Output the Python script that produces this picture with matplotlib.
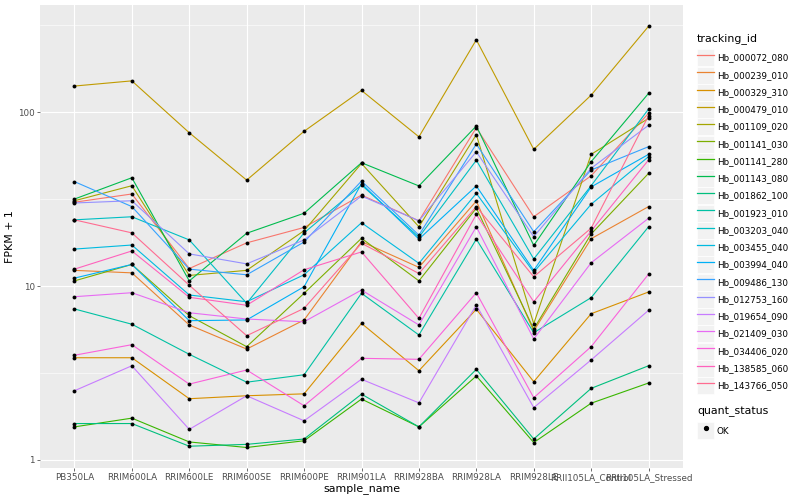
import matplotlib
matplotlib.use("Agg")
import matplotlib.pyplot as plt
import numpy as np
from matplotlib.lines import Line2D
from matplotlib.patches import Rectangle
from matplotlib.legend_handler import HandlerLine2D
from matplotlib.ticker import FixedLocator, NullFormatter

# samples on the x axis
samples = ['PB350LA', 'RRIM600LA', 'RRIM600LE', 'RRIM600SE', 'RRIM600PE', 'RRIM901LA',
           'RRIM928BA', 'RRIM928LA', 'RRIM928LE', 'RRII105LA_Control', 'RRII105LA_Stressed']

# FPKM + 1 per gene
hb_000072_080 = [30.3, 33.8, 12.6, 17.7, 21.7, 33.3, 23.7, 81.2, 25.0, 43.0, 98.3]
hb_000239_010 = [12.3, 11.9, 5.97, 4.34, 6.38, 18.0, 12.8, 30.8, 5.51, 18.7, 28.6]
hb_000329_310 = [3.87, 3.87, 2.25, 2.34, 2.40, 6.10, 3.26, 7.35, 2.82, 6.93, 9.24]
hb_000479_010 = [141, 151, 76, 40.6, 77.5, 133, 72, 260, 61, 125, 311]
hb_001109_020 = [30.9, 37.7, 11.5, 12.3, 20.8, 50.6, 21.9, 74.1, 6.07, 57.1, 92.0]
hb_001141_030 = [10.7, 13.3, 6.75, 4.48, 9.08, 18.8, 10.7, 28.0, 5.66, 19.9, 44.4]
hb_001141_280 = [1.55, 1.74, 1.27, 1.18, 1.29, 2.24, 1.55, 3.04, 1.26, 2.12, 2.77]
hb_001143_080 = [31.6, 41.9, 10.7, 20.1, 26.2, 51.1, 37.6, 83.1, 17.1, 51.8, 128]
hb_001862_100 = [1.62, 1.62, 1.20, 1.23, 1.32, 2.39, 1.55, 3.32, 1.32, 2.58, 3.48]
hb_001923_010 = [7.38, 6.03, 4.05, 2.80, 3.09, 9.08, 5.23, 18.6, 5.39, 8.57, 21.9]
hb_003203_040 = [24.0, 25.0, 18.4, 7.96, 20.2, 38.1, 19.1, 52.8, 14.3, 37.7, 104]
hb_003455_040 = [16.3, 17.2, 8.88, 8.12, 11.6, 23.1, 13.5, 34.1, 12.0, 29.5, 55.4]
hb_003994_040 = [11.1, 13.3, 6.32, 6.38, 9.91, 38.8, 18.6, 37.6, 12.3, 37.1, 57.1]
hb_009486_130 = [39.8, 28.6, 12.5, 11.6, 17.9, 40.1, 19.6, 65.5, 20.5, 46.4, 63.2]
hb_012753_160 = [30.0, 30.9, 15.3, 13.4, 18.4, 32.9, 23.7, 59.1, 19.2, 47.5, 83.9]
hb_019654_090 = [2.50, 3.48, 1.50, 2.34, 1.68, 2.91, 2.13, 7.78, 2.00, 3.76, 7.25]
hb_021409_030 = [8.68, 9.15, 7.02, 6.46, 6.23, 9.48, 5.97, 21.9, 4.96, 13.6, 24.5]
hb_034406_020 = [4.00, 4.60, 2.73, 3.29, 2.05, 3.84, 3.79, 9.15, 2.28, 4.48, 11.7]
hb_138585_060 = [12.5, 15.9, 8.61, 7.75, 12.4, 15.7, 6.52, 25.8, 8.12, 20.7, 53.0]
hb_143766_050 = [24.0, 20.2, 10.1, 5.18, 7.44, 17.6, 11.8, 28.6, 11.3, 21.5, 95.2]

tracking_ids = ['Hb_000072_080', 'Hb_000239_010', 'Hb_000329_310', 'Hb_000479_010',
                'Hb_001109_020', 'Hb_001141_030', 'Hb_001141_280', 'Hb_001143_080',
                'Hb_001862_100', 'Hb_001923_010', 'Hb_003203_040', 'Hb_003455_040',
                'Hb_003994_040', 'Hb_009486_130', 'Hb_012753_160', 'Hb_019654_090',
                'Hb_021409_030', 'Hb_034406_020', 'Hb_138585_060', 'Hb_143766_050']
series = [hb_000072_080, hb_000239_010, hb_000329_310, hb_000479_010, hb_001109_020,
          hb_001141_030, hb_001141_280, hb_001143_080, hb_001862_100, hb_001923_010,
          hb_003203_040, hb_003455_040, hb_003994_040, hb_009486_130, hb_012753_160,
          hb_019654_090, hb_021409_030, hb_034406_020, hb_138585_060, hb_143766_050]

# ggplot hue palette for 20 levels
colors = ['#F8766D', '#EA8331', '#D89000', '#C09B00', '#A3A500', '#7CAE00', '#39B600',
          '#00BB4E', '#00BF7D', '#00C1A3', '#00BFC4', '#00BAE0', '#00B0F6', '#35A2FF',
          '#9590FF', '#C77CFF', '#E76BF3', '#FA62DB', '#FF62BC', '#FF6C91']

fig = plt.figure(figsize=(8, 5), dpi=100)
ax = fig.add_axes([40 / 800, 1 - 468 / 500, 643 / 800, 463 / 500])
ax.set_facecolor('#EBEBEB')
for s in ax.spines.values():
    s.set_visible(False)

x = np.arange(len(samples))
for vals, col in zip(series, colors):
    ax.plot(x, vals, color=col, lw=0.8, zorder=2)
for vals in series:
    ax.plot(x, vals, 'o', color='black', ms=2.8, mec='none', zorder=3)

ax.set_yscale('log')
ax.set_ylim(10 ** -0.046, 10 ** 2.615)
ax.set_xlim(-0.6, len(samples) - 0.4)
ax.yaxis.set_major_locator(FixedLocator([1, 10, 100]))
ax.set_yticklabels(['1', '10', '100'])
ax.yaxis.set_minor_locator(FixedLocator([10 ** 0.5, 10 ** 1.5, 10 ** 2.5]))
ax.yaxis.set_minor_formatter(NullFormatter())
ax.set_xticks(x)
ax.set_xticklabels(samples)
ax.grid(which='major', color='white', lw=0.8)
ax.grid(which='minor', axis='y', color='white', lw=0.4)
ax.set_axisbelow(True)
ax.tick_params(which='major', length=2, width=0.5, color='#333333', pad=1.6,
               labelsize=6.3, labelcolor='#4D4D4D')
ax.tick_params(which='minor', length=0)
ax.set_xlabel('sample_name', fontsize=7.9, labelpad=1)
ax.set_ylabel('FPKM + 1', fontsize=7.9, labelpad=2)


class KeyHandler(HandlerLine2D):
    def create_artists(self, legend, orig_handle, xdescent, ydescent, width, height, fontsize, trans):
        box = Rectangle((-xdescent, -ydescent), width, height, facecolor='#F2F2F2',
                        edgecolor='white', lw=0.5, transform=trans)
        arts = super().create_artists(legend, orig_handle, xdescent, ydescent, width, height, fontsize, trans)
        return [box] + arts


leg_opts = dict(loc='upper left', frameon=False, prop={'size': 6.3}, title_fontsize=7.9,
                handlelength=1.95, handleheight=2.61, labelspacing=0.03, handletextpad=0.3,
                borderpad=0, borderaxespad=0, alignment='left',
                handler_map={Line2D: KeyHandler()})

handles = [Line2D([], [], color=c, lw=0.9) for c in colors]
leg1 = fig.legend(handles, tracking_ids, bbox_to_anchor=(697 / 800, 1 - 33 / 500),
                  title='tracking_id', **leg_opts)
leg1._legend_box.sep = 4
ok = [Line2D([], [], marker='o', ls='none', color='black', ms=2.8)]
leg2 = fig.legend(ok, ['OK'], bbox_to_anchor=(697 / 800, 1 - 406 / 500),
                  title='quant_status', **leg_opts)
leg2._legend_box.sep = 4

fig.savefig('out.png', dpi=100)
